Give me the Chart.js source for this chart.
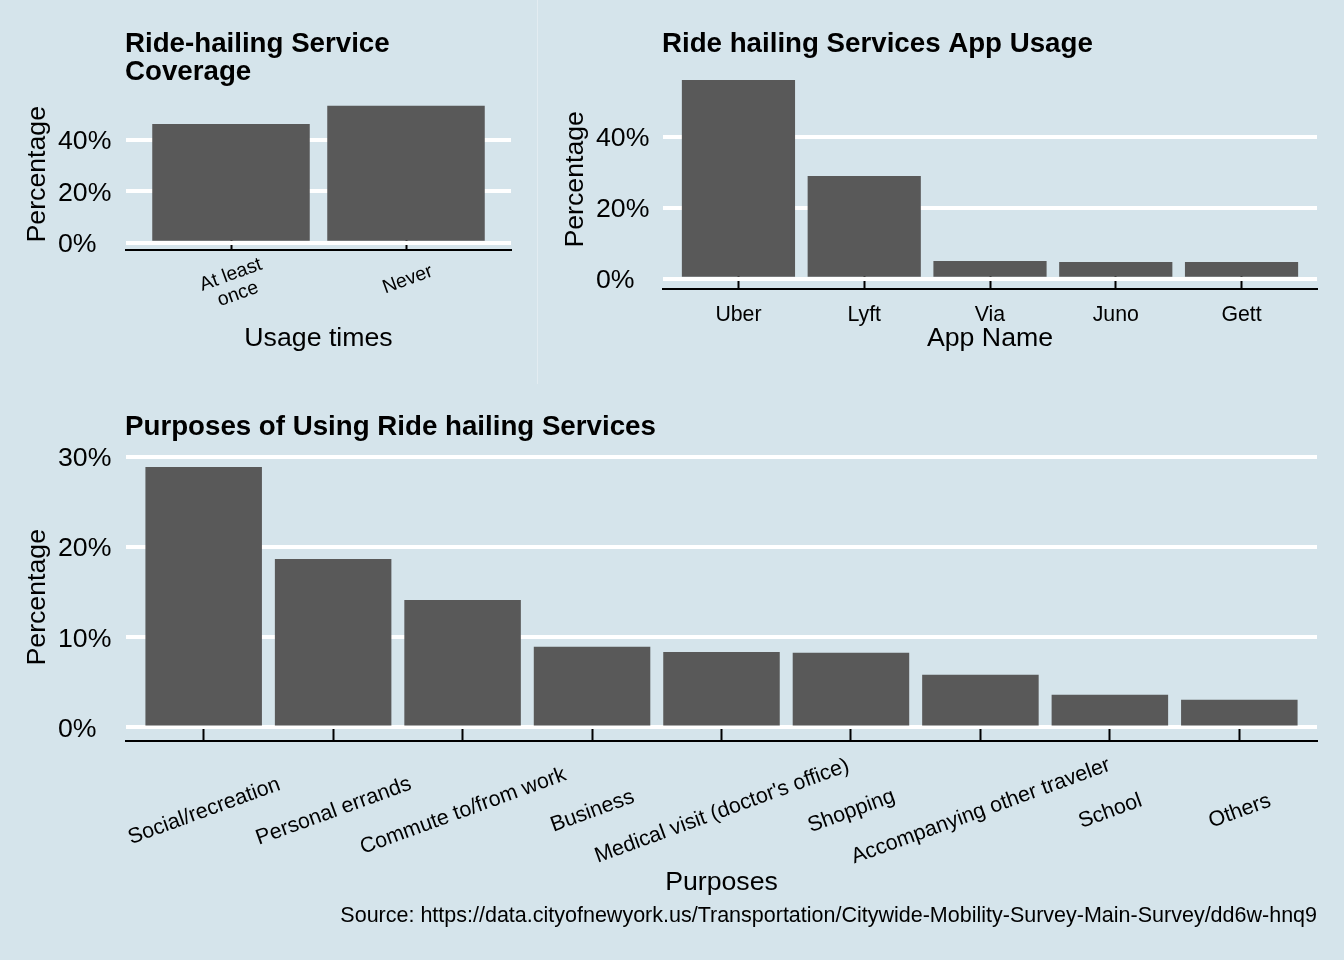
<!DOCTYPE html>
<html><head><meta charset="utf-8">
<script src="https://cdn.jsdelivr.net/npm/chart.js@4.4.1/dist/chart.umd.min.js"></script>
<style>
html,body{margin:0;padding:0;background:#d5e4eb;width:1344px;height:960px;overflow:hidden;}
canvas{position:absolute;}
#sep{position:absolute;left:537px;top:0;width:1px;height:384px;background:#e3ecf1;}
</style></head><body>
<canvas id="c1" width="538" height="385" style="left:0;top:0"></canvas>
<div id="sep"></div>
<canvas id="c2" width="806" height="385" style="left:538px;top:0"></canvas>
<canvas id="c3" width="1344" height="575" style="left:0;top:385px"></canvas>
<script>
// ---- data ----
const usageCategories = ['At least once', 'Never'];
const usageTickLabels = [['At least', 'once'], ['Never']];
const usageValues = [46.2, 53.3];
const usageYTicks = [0, 20, 40];

const appCategories = ['Uber', 'Lyft', 'Via', 'Juno', 'Gett'];
const appTickLabels = [['Uber'], ['Lyft'], ['Via'], ['Juno'], ['Gett']];
const appValues = [56.0, 28.9, 5.0, 4.7, 4.7];
const appYTicks = [0, 20, 40];

const purposeCategories = ['Social/recreation', 'Personal errands', 'Commute to/from work', 'Business',
  "Medical visit (doctor's office)", 'Shopping', 'Accompanying other traveler', 'School', 'Others'];
const purposeTickLabels = purposeCategories.map(c => [c]);
const purposeValues = [28.87, 18.68, 14.14, 8.94, 8.37, 8.28, 5.84, 3.62, 3.07];
const purposeYTicks = [0, 10, 20, 30];

const captionText = 'Source: https://data.cityofnewyork.us/Transportation/Citywide-Mobility-Survey-Main-Survey/dd6w-hnq9';

// ---- style ----
const FONT = "'Liberation Sans', Arial, sans-serif";
const BAR = '#595959', INK = '#000000', GRID = '#ffffff';

function makeChart(id, o) {
  const maxV = Math.max(...o.values);
  const n = o.categories.length;
  const decor = {
    id: 'decor',
    afterDraw(chart) {
      const ctx = chart.ctx, ca = chart.chartArea, xs = chart.scales.x;
      ctx.save();
      ctx.fillStyle = INK;
      ctx.font = `bold ${o.titleSize}px ${FONT}`;
      ctx.textAlign = 'left';
      ctx.textBaseline = 'alphabetic';
      o.title.forEach((line, i) => {
        ctx.fillText(line, ca.left - 1, ca.top - o.titleGap - (o.title.length - 1 - i) * o.titleLH);
      });
      ctx.font = `${o.xFont}px ${FONT}`;
      ctx.textAlign = 'center';
      o.tickLabels.forEach((lines, i) => {
        const px = xs.getPixelForValue(i + 1);
        ctx.save();
        ctx.translate(px + o.xLabelDx, ca.bottom + o.xLabelDy);
        ctx.rotate(-o.angle * Math.PI / 180);
        const b0 = -(lines.length - 1) * o.xLH * 0.25;
        lines.forEach((t, j) => ctx.fillText(t, 0, b0 + j * o.xLH));
        ctx.restore();
      });
      ctx.restore();
    }
  };
  return new Chart(document.getElementById(id), {
    type: 'bar',
    data: {
      datasets: [{
        data: o.values.map((v, i) => ({ x: i + 1, y: v })),
        backgroundColor: BAR, borderWidth: 0, borderSkipped: false,
        barPercentage: 0.9, categoryPercentage: 1.0
      }]
    },
    options: {
      responsive: false, animation: false, devicePixelRatio: 1,
      layout: { padding: { left: 0, right: o.padRight, top: o.padTop, bottom: 0 } },
      plugins: {
        legend: { display: false }, tooltip: { enabled: false }, title: { display: false },
        subtitle: o.caption ? {
          display: true, text: o.caption, position: 'bottom', align: 'end', color: INK,
          font: { family: FONT, size: 21.5, weight: 'normal', lineHeight: 1.2 },
          padding: { top: 0, bottom: o.captionPad }
        } : { display: false }
      },
      scales: {
        x: {
          type: 'linear', position: 'bottom', min: 0.4, max: n + 0.6, offset: false,
          grid: { display: true, offset: false, drawOnChartArea: false, drawTicks: true, tickLength: -13, tickColor: INK, tickWidth: 2 },
          border: { display: true, color: INK, width: 2 },
          ticks: { display: false },
          afterBuildTicks: s => { s.ticks = o.categories.map((c, i) => ({ value: i + 1 })); },
          title: { display: true, text: o.xTitle, color: INK, font: { family: FONT, size: 26.7 }, padding: { top: 0, bottom: o.xTitlePad } },
          afterFit: s => { s.height = o.xHeight; }
        },
        y: {
          type: 'linear', position: 'left', weight: 0, min: -0.05 * maxV, max: 1.05 * maxV,
          grid: { color: GRID, lineWidth: 4, drawTicks: false },
          border: { display: false },
          ticks: { crossAlign: 'far', padding: 0, labelOffset: 2, color: INK, font: { family: FONT, size: 26.7 }, callback: v => v + '%' },
          afterBuildTicks: s => { s.ticks = o.yTicks.map(v => ({ value: v })); },
          afterFit: s => { s.width = o.yW; }
        },
        yTitle: {
          type: 'linear', position: 'left', weight: 10,
          grid: { display: false }, border: { display: false }, ticks: { display: false },
          title: { display: true, text: 'Percentage', color: INK, font: { family: FONT, size: 26.7 }, padding: { top: o.yTitlePad, bottom: 0 } },
          afterFit: s => { s.width = o.yTitleW; }
        }
      }
    },
    plugins: [decor]
  });
}

makeChart('c1', {
  categories: usageCategories, tickLabels: usageTickLabels, values: usageValues, yTicks: usageYTicks,
  padRight: 27, padTop: 98.8, xHeight: 135.4, yTitleW: 58, yW: 68, yTitlePad: 21.8, xTitlePad: 30,
  xTitle: 'Usage times', title: ['Ride-hailing Service', 'Coverage'], titleSize: 27.7, titleGap: 18.8, titleLH: 28.5,
  xFont: 19.4, xLH: 20.5, angle: 20, xLabelDx: 3.5, xLabelDy: 35.1
});
makeChart('c2', {
  categories: appCategories, tickLabels: appTickLabels, values: appValues, yTicks: appYTicks,
  padRight: 27, padTop: 70, xHeight: 96.4, yTitleW: 58, yW: 67, yTitlePad: 21.8, xTitlePad: 30.5,
  xTitle: 'App Name', title: ['Ride hailing Services App Usage'], titleSize: 27.7, titleGap: 18.3, titleLH: 28.5,
  xFont: 21.3, xLH: 23, angle: 0, xLabelDx: 0, xLabelDy: 31.9
});
makeChart('c3', {
  categories: purposeCategories, tickLabels: purposeTickLabels, values: purposeValues, yTicks: purposeYTicks,
  padRight: 27, padTop: 69, xHeight: 163.1, yTitleW: 58, yW: 68, yTitlePad: 21.8, xTitlePad: 5,
  xTitle: 'Purposes', title: ['Purposes of Using Ride hailing Services'], titleSize: 27.7, titleGap: 19.2, titleLH: 28.5,
  xFont: 21.5, xLH: 23, angle: 20, xLabelDx: 2.5, xLabelDy: 76.3,
  caption: captionText, captionPad: 30.6
});
</script>
</body></html>
